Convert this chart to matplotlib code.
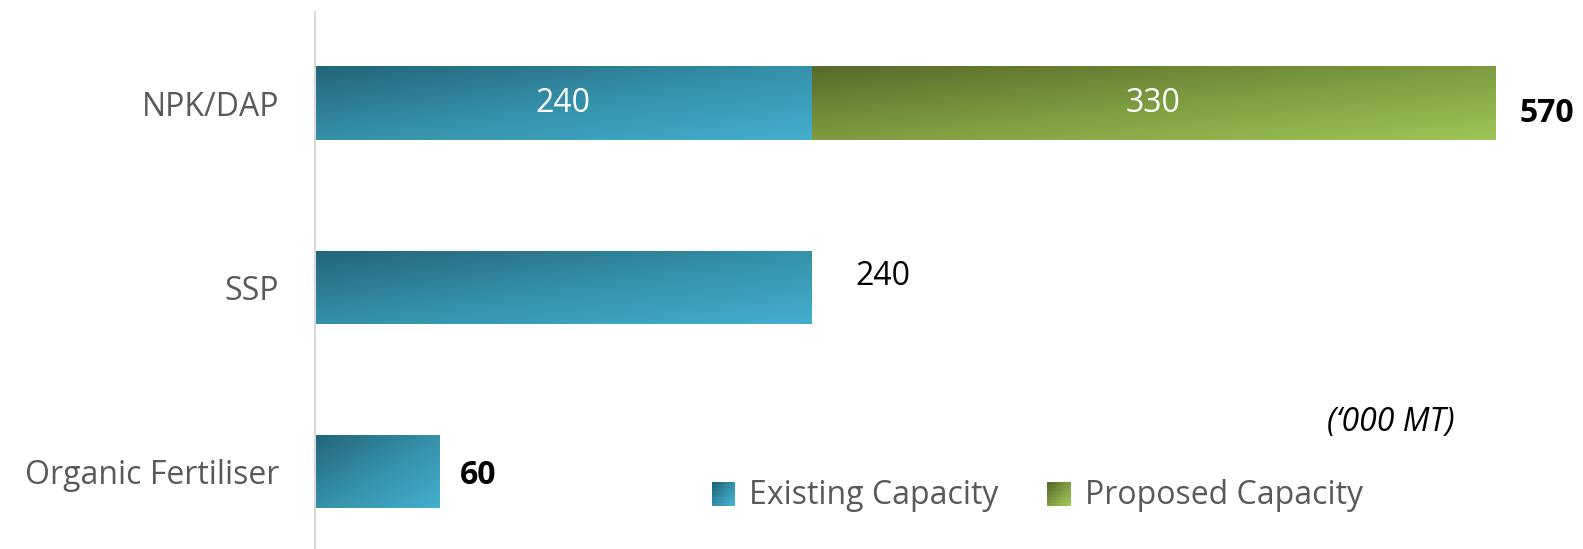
import matplotlib.pyplot as plt
import numpy as np
from matplotlib.colors import LinearSegmentedColormap
from matplotlib.legend_handler import HandlerBase
from matplotlib.patches import Rectangle

plt.rcParams['font.family'] = ['Open Sans', 'DejaVu Sans']

categories = ["NPK/DAP", "SSP", "Organic Fertiliser"]
existing = [240, 240, 60]
proposed = [330, 0, 0]
totals = [570, 240, 60]
series_names = ["Existing Capacity", "Proposed Capacity"]
unit_note = "(\u2018000 MT)"

teal = LinearSegmentedColormap.from_list("teal", ["#226579", "#3590a9", "#43afcf"])
green = LinearSegmentedColormap.from_list("green", ["#586b2a", "#7d9c40", "#9ec557"])

FS = 23


def grad_image(n=64):
    u = np.linspace(0, 1, n)
    uu, vv = np.meshgrid(u, u)
    return (uu + vv) / 2.0


def fill_gradient(ax, patch, cmap):
    x, y = patch.get_x(), patch.get_y()
    w, h = patch.get_width(), patch.get_height()
    if w <= 0:
        return
    patch.set_facecolor("none")
    # y axis is inverted, so origin='upper' puts row 0 at the top of the bar
    im = ax.imshow(grad_image(), cmap=cmap, vmin=0, vmax=1, aspect="auto",
                   extent=(x, x + w, y + h, y), origin="upper", zorder=2,
                   interpolation="bilinear")
    im.set_clip_path(patch)


class GradHandler(HandlerBase):
    def __init__(self, cmap):
        super().__init__()
        self.cmap = cmap

    def create_artists(self, legend, orig_handle, xdescent, ydescent,
                       width, height, fontsize, trans):
        n = 8
        side = height * 1.05
        x0 = -xdescent + (width - side) / 2
        y0 = -ydescent - (side - height) / 2 - height * 0.08
        arts = []
        for i in range(n):
            for j in range(n):
                t = (i + (n - 1 - j)) / (2 * (n - 1))
                r = Rectangle((x0 + i * side / n, y0 + j * side / n), side / n * 1.02,
                              side / n * 1.02, facecolor=self.cmap(t),
                              edgecolor="none", transform=trans)
                arts.append(r)
        return arts


fig = plt.figure(figsize=(15.83, 5.49), dpi=100)
ax = fig.add_axes([315 / 1583, 0.0, 1 - 315 / 1583 - 0.01, 1 - 12 / 549])

ypos = np.arange(len(categories))
bars_e = ax.barh(ypos, existing, height=0.4, color="#3590a9", zorder=2)
bars_p = ax.barh(ypos, proposed, left=existing, height=0.4, color="#7d9c40", zorder=2)

ax.set_xlim(0, 605)
ax.set_ylim(2.42, -0.495)

for b in bars_e:
    fill_gradient(ax, b, teal)
for b in bars_p:
    fill_gradient(ax, b, green)

# segment labels inside the stacked bar
for i in range(len(categories)):
    if proposed[i] > 0:
        ax.text(existing[i] / 2, ypos[i], str(existing[i]), color="white",
                fontsize=FS, ha="center", va="center", zorder=3)
        ax.text(existing[i] + proposed[i] / 2, ypos[i], str(proposed[i]), color="white",
                fontsize=FS, ha="center", va="center", zorder=3)

# totals to the right (excel puts them a bit off-centre)
offsets_x = [12, 21, 10]
offsets_y = [0.055, -0.06, 0.02]
for i in range(len(categories)):
    bold = "normal" if i == 1 else "bold"
    ax.text(totals[i] + offsets_x[i], ypos[i] + offsets_y[i], str(totals[i]),
            color="black", fontsize=FS, fontweight=bold, ha="left", va="center", zorder=3)

ax.set_yticks(ypos)
ax.set_yticklabels(categories, fontsize=FS, color="#595959")
ax.tick_params(axis="y", length=0, pad=26)
ax.set_xticks([])
for s in ["top", "right", "bottom"]:
    ax.spines[s].set_visible(False)
ax.spines["left"].set_color("#d9d9d9")
ax.spines["left"].set_linewidth(1.5)

ax.text(1455 / 1583, 1 - 422 / 549, unit_note, transform=fig.transFigure, fontsize=FS,
        style="italic", ha="right", va="center", color="black")

h1 = Rectangle((0, 0), 1, 1)
h2 = Rectangle((0, 0), 1, 1)
leg = fig.legend([h1, h2], series_names, loc="center left",
                 bbox_to_anchor=(682 / 1583, 1 - 495 / 549), ncol=2, frameon=False,
                 fontsize=FS, handler_map={h1: GradHandler(teal), h2: GradHandler(green)},
                 handlelength=0.8, handletextpad=0.4, columnspacing=1.5)
for t in leg.get_texts():
    t.set_color("#595959")

fig.savefig("out.png", dpi=100)
